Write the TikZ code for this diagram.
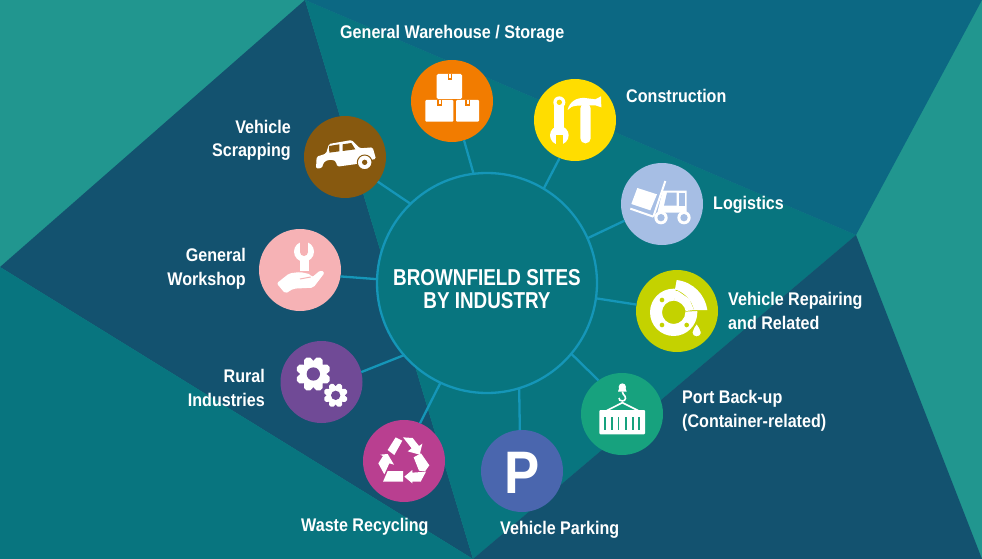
\documentclass[tikz,border=0pt]{standalone}
\usepackage{fontspec}
\setmainfont{Liberation Sans}
\newfontfamily\labfont[FakeStretch=0.88]{Liberation Sans}
\newfontfamily\titlefont[FakeStretch=0.82]{Liberation Sans}
\definecolor{cLight}{HTML}{21968F}
\definecolor{cNavy}{HTML}{13526F}
\definecolor{cTeal}{HTML}{08757F}
\definecolor{cBlue}{HTML}{0C6883}
\definecolor{cLine}{HTML}{1596B8}
\definecolor{cOrange}{HTML}{F27C00}
\definecolor{cYellow}{HTML}{FFDD00}
\definecolor{cSky}{HTML}{A6BEE4}
\definecolor{cLime}{HTML}{C4D200}
\definecolor{cGreen}{HTML}{17A27E}
\definecolor{cIndigo}{HTML}{4A66AE}
\definecolor{cMagenta}{HTML}{B93F90}
\definecolor{cPurple}{HTML}{704A96}
\definecolor{cPink}{HTML}{F6B2B5}
\definecolor{cBrown}{HTML}{87590F}
\tikzset{
  bubble/.style={circle,fill=#1,minimum size=82pt,inner sep=0pt,outer sep=0pt},
  hubnode/.style={circle,draw=cLine,line width=2.3pt,fill=cTeal,minimum size=220pt,inner sep=0pt,outer sep=0pt,
    text=white,align=center,font=\titlefont\bfseries\fontsize{23}{23.5}\selectfont},
  link/.style={draw=cLine,line width=2.3pt},
  lab/.style={text=white,inner sep=0pt,font=\labfont\bfseries\fontsize{18.3}{24}\selectfont},
  labl/.style={lab,anchor=base west,align=left},
  labr/.style={lab,anchor=base east,align=right},
}
\begin{document}
\begin{tikzpicture}[x=1pt,y=-1pt]
\useasboundingbox (0,0) rectangle (982,559);
% background
\fill[cLight] (0,0) rectangle (982,559);
\fill[cNavy] (305,0) -- (0,267) -- (473,559) -- cycle;
\fill[cTeal] (0,267) -- (473,559) -- (0,559) -- cycle;
\fill[cTeal] (305,0) -- (856,235) -- (473,559) -- cycle;
\fill[cBlue] (305,0) -- (982,0) -- (856,235) -- cycle;
\fill[cNavy] (856,235) -- (982,559) -- (473,559) -- cycle;
% nodes
\node[hubnode] (hub) at (487,283) {\raisebox{-6pt}[\height][\depth]{\parbox{200pt}{\centering BROWNFIELD SITES\\BY INDUSTRY}}};
\node[bubble=cOrange] (wh) at (452,101) {};
\node[bubble=cYellow] (con) at (575,120) {};
\node[bubble=cSky] (logi) at (662,204) {};
\node[bubble=cLime] (rep) at (677,311) {};
\node[bubble=cGreen] (port) at (622,414) {};
\node[bubble=cIndigo,text=white,font=\labfont\bfseries\fontsize{60}{60}\selectfont] (park) at (522,471) {\raisebox{-2pt}[\height][0pt]{P}};
\node[bubble=cMagenta] (waste) at (404,461) {};
\node[bubble=cPurple] (rural) at (321.5,382) {};
\node[bubble=cPink] (shop) at (300,270) {};
\node[bubble=cBrown] (scrap) at (345,157) {};
% connectors
\draw[link] (hub.97.3) -- (wh.-73);
\draw[link] (hub.59.3) -- (con.-112.3);
\draw[link] (hub.24.5) -- (logi.-156);
\draw[link] (hub.-8.3) -- (rep.171.5);
\draw[link] (hub.-40.6) -- (port.125);
\draw[link] (hub.-73.7) -- (park.93);
\draw[link] (hub.-115.2) -- (waste.67);
\draw[link] (hub.-139) -- (rural.14);
\draw[link] (hub.178.4) -- (shop.-9.5);
\draw[link] (hub.134.3) -- (scrap.-37);
% labels
\node[labl] (t1) at (340,38.3) {General Warehouse / Storage};
\node[labl] (t2) at (626,103) {Construction};
\node[labl] (t3) at (713,209) {Logistics};
\node[labl] (t4) at (728,329) {Vehicle Repairing\\and Related};
\node[labl] (t5) at (682,427) {Port Back-up\\(Container-related)};
\node[labl] (t6) at (500,534) {Vehicle Parking};
\node[labl] (t7) at (301,531) {Waste Recycling};
\node[labr] (t8) at (265,406) {Rural\\Industries};
\node[labr] (t9) at (246,285) {General\\Workshop};
\node[labr] (t10) at (291,157) {Vehicle\\Scrapping};
% --- icons, in 3x crop coordinates ---
\begin{scope}[shift={(280,40)},x=0.33333pt,y=-0.33333pt]
 % boxes
 \fill[white,rounded corners=1.5pt] (470,102) rectangle (546,177);
 \fill[white,rounded corners=1pt] (436,180) rectangle (520,245);
 \fill[white,rounded corners=1pt] (528,180) rectangle (597,245);
 \fill[cOrange] (503,102) rectangle (517,120);
 \fill[white] (507,102) rectangle (513,115);
 \fill[cOrange] (472,180) rectangle (486,198); \fill[white] (476,180) rectangle (482,193);
 \fill[cOrange] (556,180) rectangle (570,198); \fill[white] (560,180) rectangle (566,193);
 % car
 \fill[white,rounded corners=1.5pt] (108,386) -- (110,350) -- (138,341) -- (147,312) -- (215,300) -- (240,325) -- (278,322) -- (288,357) -- (270,360) -- (230,372) -- (172,380) -- (168,366) .. controls (160,358) and (140,358) .. (130,370) -- (126,384) -- cycle;
 \fill[cBrown] (147,318) -- (178,313) -- (178,334) -- (148,338) -- cycle;
 \fill[cBrown] (188,313) -- (214,309) -- (226,328) -- (188,333) -- cycle;
 \fill[white,draw=cBrown,line width=1pt] (254,367) circle (22);
 \fill[cBrown] (254,367) circle (8);
\end{scope}
\begin{scope}[shift={(520,70)},x=0.33333pt,y=-0.33333pt]
 % wrench
 \fill[white] (118,97) circle (18);
 \fill[white] (103,97) rectangle (133,175);
 \fill[white] (118,196) circle (28);
 \fill[cYellow] (108,194) rectangle (128,226);
 \fill[cYellow] (118,97) circle (8);
 % hammer
 \fill[white,rounded corners=5pt] (181,100) -- (212,100) -- (212,220) -- (181,220) -- cycle;
 \fill[white] (143,120) .. controls (148,95) and (170,82) .. (195,84) -- (226,88) -- (243,79) -- (244,112) -- (226,106) -- (172,107) .. controls (157,108) and (150,112) .. cycle;
 % forklift
 \fill[white] (352,354) -- (411,373) -- (391,421) -- (334,402) -- cycle;
 \draw[white,line width=2pt] (436,333) -- (400,440);
 \draw[white,line width=2pt] (331,416) -- (400,440);
 \fill[white] (428,362) -- (500,362) -- (500,428) -- (412,428) -- cycle;
 \fill[cSky] (441,368) -- (470,368) -- (470,407) -- (432,407) -- cycle;
 \fill[cSky] (476,368) -- (494,368) -- (494,407) -- (476,407) -- cycle;
 \foreach \wx in {423,492} {
  \fill[white] (\wx,443) circle (20);
  \fill[cSky] (\wx,443) circle (11);
 }
\end{scope}
\begin{scope}[shift={(570,260)},x=0.33333pt,y=-0.33333pt]
 % brake disc
 \fill[white,even odd rule] (311,157) circle (71) (311,157) circle (35);
 \fill[cLime] (311,157) -- (318,82) -- (390,70) -- (395,152) -- cycle;
 \fill[white] (347,153) -- (372,150) -- (358,117) -- (325,94) -- (314,92) -- (314,122) .. controls (330,124) and (345,138) .. cycle;
 \fill[white] (320,60) .. controls (370,66) and (406,105) .. (412,150) -- (372,150) .. controls (366,122) and (345,98) .. (315,88) -- cycle;
 \foreach \hx/\hy in {276/120,276/195,350/195} \fill[cLime] (\hx,\hy) circle (7);
 \fill[white,draw=cLime,line width=1pt] (380,190) .. controls (384,200) and (394,205) .. (394,216) .. controls (394,236) and (366,236) .. (366,216) .. controls (366,205) and (376,200) .. cycle;
\end{scope}
\begin{scope}[shift={(590,375)},x=0.33333pt,y=-0.33333pt]
 % container
 \fill[white,rounded corners=1pt] (28,105) rectangle (165,178);
 \foreach \sx in {45,65,85,107,128,147}
   \fill[cGreen] (\sx-2.5,125) rectangle (\sx+2.5,165);
 \draw[white,line width=1.6pt] (50,107) -- (97,83) -- (145,107);
 % hook
 \fill[white] (97,36) circle (11);
 \fill[white] (84,50) -- (110,50) -- (106,38) -- (88,38) -- cycle;
 \draw[white,line width=1.6pt] (97,50) -- (100,58) .. controls (110,65) and (108,78) .. (97,78) .. controls (90,78) and (87,74) .. (87,69);
\end{scope}
\begin{scope}[shift={(250,220)},x=0.33333pt,y=-0.33333pt]
 % wrench in hand
 \fill[white] (162,95) circle (30);
 \fill[cPink] (150,60) rectangle (174,96);
 \fill[cPink] (162,96) circle (12);
 \fill[white] (150,115) rectangle (177,152);
 \fill[white,rounded corners=2pt] (80,190) -- (118,160) -- (150,156) -- (182,163) -- (186,172) -- (212,150) -- (224,158) -- (190,203) -- (130,206) -- (106,221) -- cycle;
 \draw[cPink,line width=1pt] (150,177) -- (182,171);
 % gears
 \foreach \gx/\gy/\gr/\gh/\gw in {190/462/40/20/28,257/526/28/14/19} {
  \fill[white] (\gx,\gy) circle (\gr);
  \foreach \ga in {22.5,67.5,...,337.5}
    \draw[white,line width=\gw*0.33333pt,line cap=round] (\gx,\gy) -- ++(\ga:\gr*0.98);
  \fill[cPurple] (\gx,\gy) circle (\gh);
 }
\end{scope}
\begin{scope}[shift={(375,430)},x=0.33333pt,y=-0.33333pt]
 % recycling arrows
 \fill[white] (38,60) -- (62,22) -- (82,32) -- (58,75) -- cycle;
 \fill[white] (84,22) -- (113,24) -- (132,48) -- (142,41) -- (134,74) -- (98,64) -- (110,55) -- cycle;
 \fill[white] (116,82) -- (138,70) -- (163,106) -- (150,124) -- (132,122) -- cycle;
 \fill[white] (88,140) -- (112,120) -- (112,128) -- (153,125) -- (137,155) -- (112,155) -- (112,160) -- cycle;
 \fill[white] (38,123) -- (84,123) -- (84,155) -- (24,155) -- cycle;
 \fill[white] (38,72) -- (57,104) -- (43,100) -- (28,133) -- (10,100) -- (24,78) -- (16,74) -- cycle;
\end{scope}
\end{tikzpicture}
\end{document}
